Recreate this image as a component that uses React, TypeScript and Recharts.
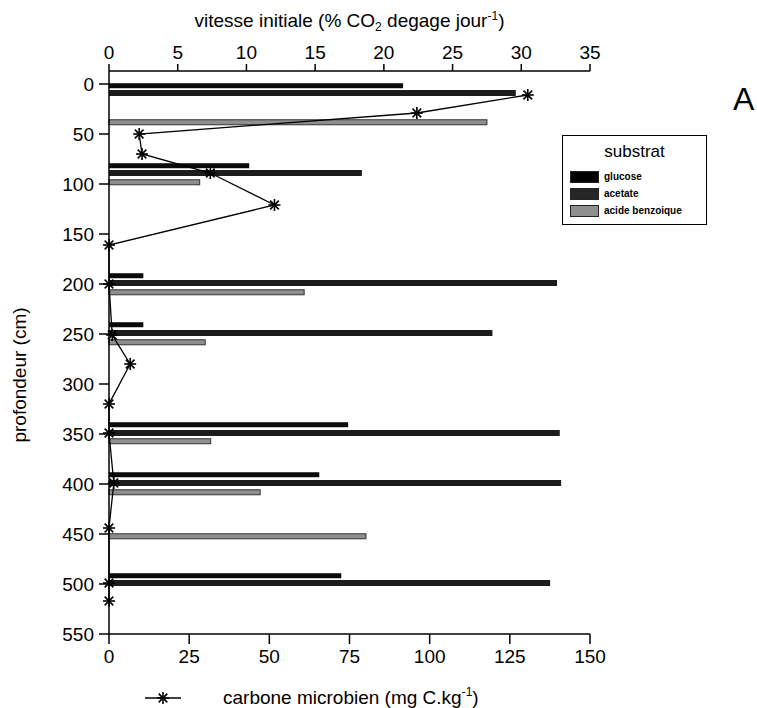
import { ComposedChart, Bar, Line, XAxis, YAxis, Legend } from 'recharts'

const FONT = '"Liberation Sans", Arial, Helvetica, sans-serif'

const depthTicks = [0, 50, 100, 150, 200, 250, 300, 350, 400, 450, 500, 550]
const vitesseTicks = [0, 5, 10, 15, 20, 25, 30, 35]
const carboneTicks = [0, 25, 50, 75, 100, 125, 150]

// initial rate (% CO2 / day) per substrate, at the depth each bar sits
const glucoseDepth = [2, 82, 192, 241, 341, 391, 492]
const glucoseRate = [21.4, 10.2, 2.5, 2.5, 17.4, 15.3, 16.9]
const acetateDepth = [9, 89, 199, 249, 349, 399, 499]
const acetateRate = [29.6, 18.4, 32.6, 27.9, 32.8, 32.9, 32.1]
const benzoDepth = [38, 98, 208, 258, 357, 408, 452]
const benzoRate = [27.5, 6.6, 14.2, 7.0, 7.4, 11.0, 18.7]

// microbial carbon (mg C/kg)
const carboneDepth = [11, 29, 50, 70, 89, 121, 161, 200, 251, 280, 320, 349, 399, 444, 499, 517]
const carboneValue = [130.6, 96, 9.4, 10.3, 31.6, 51.6, 0, 0, 1, 6.6, 0, 0, 1.5, 0, 0, 0]

const legendOrder = ['glucose', 'acetate', 'acide benzoique']

type Row = { depth: number; glucose?: number; acetate?: number; benzo?: number; carbone?: number }

function buildRows(): Row[] {
  const m = new Map<number, Row>()
  const put = (d: number, key: keyof Row, v: number) => {
    const r = m.get(d) ?? { depth: d }
    ;(r as any)[key] = v
    m.set(d, r)
  }
  glucoseDepth.forEach((d, i) => put(d, 'glucose', glucoseRate[i]))
  acetateDepth.forEach((d, i) => put(d, 'acetate', acetateRate[i]))
  benzoDepth.forEach((d, i) => put(d, 'benzo', benzoRate[i]))
  carboneDepth.forEach((d, i) => put(d, 'carbone', carboneValue[i]))
  return [...m.values()].sort((a, b) => a.depth - b.depth)
}
const rows = buildRows()

// bars on a numeric depth axis get a tiny band, so draw a fixed thickness around the centre
const barShape = (thick: number, fill: string, stroke?: string) => (p: any) => {
  const { x, y, width, height } = p
  if (!(width > 0)) return <g />
  const cy = y + height / 2
  return <rect x={x} y={cy - thick / 2} width={width} height={thick} fill={fill} stroke={stroke} strokeWidth={stroke ? 1 : 0} />
}

function Star({ cx, cy, r = 6 }: any) {
  if (cx == null || cy == null || isNaN(cx) || isNaN(cy)) return <g />
  const d = r * 0.72
  return (
    <g stroke="#000" strokeWidth={1.6}>
      <line x1={cx - r} y1={cy} x2={cx + r} y2={cy} />
      <line x1={cx} y1={cy - r} x2={cx} y2={cy + r} />
      <line x1={cx - d} y1={cy - d} x2={cx + d} y2={cy + d} />
      <line x1={cx - d} y1={cy + d} x2={cx + d} y2={cy - d} />
    </g>
  )
}

function TopTitle({ viewBox }: any) {
  const cx = viewBox.x + viewBox.width / 2
  return (
    <text x={cx} y={27} textAnchor="middle" fontSize={19} fontFamily={FONT} fill="#000">
      vitesse initiale (% CO<tspan dy={4} fontSize={12}>2</tspan>
      <tspan dy={-4}> degage jour</tspan>
      <tspan dy={-7} fontSize={12}>-1</tspan>
      <tspan dy={7}>)</tspan>
    </text>
  )
}

function BottomTitle() {
  return (
    <g>
      <line x1={145} y1={698} x2={181} y2={698} stroke="#000" strokeWidth={1.3} />
      <Star cx={163} cy={698} />
      <text x={223} y={704} fontSize={19} fontFamily={FONT} fill="#000">
        carbone microbien (mg C.kg<tspan dy={-8} fontSize={12}>-1</tspan>
        <tspan dy={8}>)</tspan>
      </text>
    </g>
  )
}

function DepthTitle() {
  return (
    <text x={26} y={375} transform="rotate(-90 26 375)" textAnchor="middle" fontSize={19} fontFamily={FONT} fill="#000">
      profondeur (cm)
    </text>
  )
}

function SubstratLegend({ payload }: any) {
  const items = (payload || [])
    .filter((p: any) => legendOrder.includes(p.value))
    .sort((a: any, b: any) => legendOrder.indexOf(a.value) - legendOrder.indexOf(b.value))
  return (
    <div style={{ border: '1px solid #000', width: 145, height: 90, boxSizing: 'border-box', fontFamily: FONT, background: '#fff' }}>
      <div style={{ textAlign: 'center', fontSize: 17, marginTop: 7, marginBottom: 7, lineHeight: '18px' }}>substrat</div>
      {items.map((it: any) => (
        <div key={it.value} style={{ display: 'flex', alignItems: 'center', height: 17, marginLeft: 7 }}>
          <span style={{ display: 'inline-block', width: 29, height: 12, background: it.color, marginRight: 5, border: '1px solid #222', boxSizing: 'border-box' }} />
          <span style={{ fontSize: 10, fontWeight: 'bold' }}>{it.value}</span>
        </div>
      ))}
    </div>
  )
}

const tickStyle = { fontSize: 19, fill: '#000', fontFamily: FONT }
const axisLine = { stroke: '#000', strokeWidth: 1.5 }
const tickLine = { stroke: '#000', strokeWidth: 1.5 }

export default function App() {
  return (
    <div style={{ position: 'absolute', left: 0, top: 0, width: 757, height: 708, background: '#fff' }}>
      <ComposedChart
        width={757}
        height={708}
        data={rows}
        layout="vertical"
        margin={{ top: 41, right: 167, bottom: 34, left: 49 }}
      >
        <XAxis
          xAxisId="v"
          type="number"
          orientation="top"
          domain={[0, 35]}
          ticks={vitesseTicks}
          height={30}
          tickSize={7}
          tickMargin={5}
          tick={tickStyle}
          axisLine={axisLine}
          tickLine={tickLine}
          label={<TopTitle />}
        />
        <XAxis
          xAxisId="c"
          type="number"
          orientation="bottom"
          domain={[0, 150]}
          ticks={carboneTicks}
          height={40}
          tickSize={10}
          tickMargin={6}
          tick={tickStyle}
          axisLine={axisLine}
          tickLine={tickLine}
          label={<BottomTitle />}
        />
        <YAxis
          type="number"
          dataKey="depth"
          domain={[-13, 550]}
          ticks={depthTicks}
          width={60}
          tickSize={10}
          tickMargin={5}
          tick={tickStyle}
          axisLine={axisLine}
          tickLine={tickLine}
          label={<DepthTitle />}
        />
        <Legend
          layout="vertical"
          align="center"
          verticalAlign="middle"
          width={145}
          wrapperStyle={{ left: 562, top: 135, width: 145 }}
          content={<SubstratLegend />}
        />
        <Bar xAxisId="v" dataKey="glucose" name="glucose" fill="#000" shape={barShape(5, '#0a0a0a')} isAnimationActive={false} />
        <Bar xAxisId="v" dataKey="acetate" name="acetate" fill="#262626" shape={barShape(6, '#1c1c1c')} isAnimationActive={false} />
        <Bar xAxisId="v" dataKey="benzo" name="acide benzoique" fill="#8f8f8f" shape={barShape(5, '#8f8f8f', '#333')} isAnimationActive={false} />
        <Line
          xAxisId="c"
          dataKey="carbone"
          name="carbone microbien"
          type="linear"
          stroke="#000"
          strokeWidth={1.3}
          connectNulls
          legendType="none"
          dot={(p: any) => <Star key={p.index} cx={p.cx} cy={p.cy} />}
          activeDot={false}
          isAnimationActive={false}
        />
      </ComposedChart>
      <div style={{ position: 'absolute', left: 733, top: 83, fontSize: 32, lineHeight: 1, fontFamily: FONT }}>A</div>
    </div>
  )
}
